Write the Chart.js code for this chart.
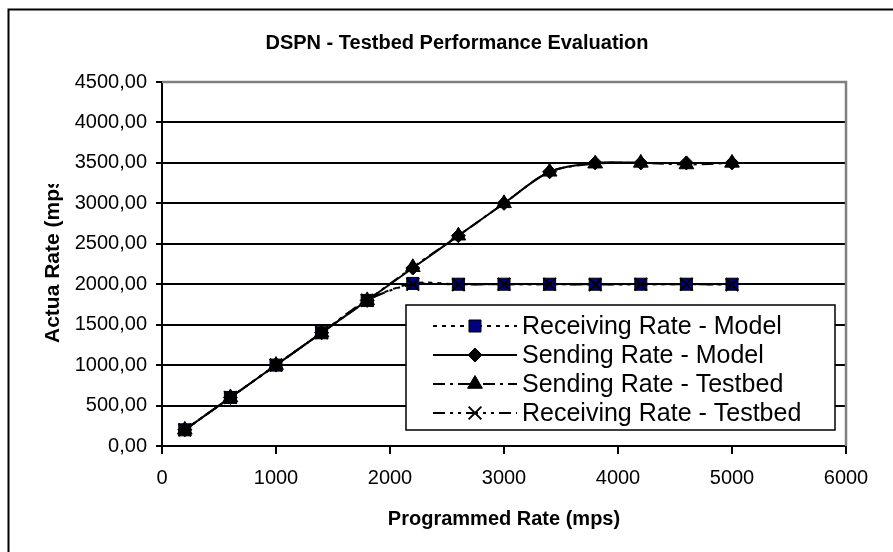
<!DOCTYPE html>
<html>
<head>
<meta charset="utf-8">
<script src="https://cdn.jsdelivr.net/npm/chart.js@4/dist/chart.umd.min.js"></script>
<style>
  html, body { margin: 0; padding: 0; background: #fff; }
  #wrap { width: 893px; height: 552px; }
</style>
</head>
<body>
<div id="wrap"><canvas id="dspn-chart" width="893" height="552"></canvas></div>
<script>
'use strict';

const fontFamily = '"Liberation Sans", Arial, sans-serif';

// values
const programmedRate = [200, 600, 1000, 1400, 1800, 2200, 2600, 3000, 3400, 3800, 4200, 4600, 5000];
const receivingModel = [200, 600, 1000, 1400, 1800, 2010, 2000, 2000, 2000, 2000, 2000, 2000, 2000];
const sendingModel = [200, 600, 1000, 1400, 1800, 2200, 2600, 3000, 3390, 3500, 3500, 3500, 3500];
const sendingTestbed = [200, 600, 1000, 1400, 1800, 2210, 2600, 3000, 3390, 3490, 3500, 3480, 3500];
const receivingTestbed = [200, 600, 1000, 1400, 1800, 2000, 1995, 2000, 2000, 1995, 2000, 2000, 1995];

const seriesNames = ['Receiving Rate - Model', 'Sending Rate - Model', 'Sending Rate - Testbed', 'Receiving Rate - Testbed'];
const xTickValues = [0, 1000, 2000, 3000, 4000, 5000, 6000];
const yTickValues = [0, 500, 1000, 1500, 2000, 2500, 3000, 3500, 4000, 4500];

const chartTitle = 'DSPN - Testbed Performance Evaluation';
const xTitle = 'Programmed Rate (mps)';
const yTitle = 'Actua Rate (mps)';

// line + marker look of each series, same order as seriesNames
const seriesStyles = [
    { dash: [4, 5], pointStyle: 'rect', radius: 8.5, fill: '#000080', stroke: '#000', order: 3 },
    { dash: [], pointStyle: 'rectRot', radius: 7, fill: '#000', stroke: '#000', order: 2 },
    { dash: [12, 5, 3, 5], pointStyle: 'triangle', radius: 8.5, fill: '#000', stroke: '#000', order: 1 },
    { dash: [12, 5, 3, 5, 3, 5], pointStyle: 'crossRot', radius: 9, fill: '#000', stroke: '#000', order: 0 }
];

function toPoints(values) {
    return programmedRate.map((x, i) => ({ x: x, y: values[i] }));
}

function makeDataset(idx, values) {
    let st = seriesStyles[idx];
    return {
        label: seriesNames[idx],
        data: toPoints(values),
        borderColor: '#000',
        borderWidth: 2,
        borderDash: st.dash,
        tension: 0.3,
        fill: false,
        order: st.order,
        pointStyle: st.pointStyle,
        pointRadius: st.radius,
        pointBackgroundColor: st.fill,
        pointBorderColor: st.stroke,
        pointBorderWidth: st.pointStyle === 'crossRot' ? 2 : 1
    };
}

function drawMarker(ctx, st, x, y) {
    ctx.save();
    ctx.setLineDash([]);
    ctx.fillStyle = st.fill;
    ctx.strokeStyle = st.stroke;
    ctx.lineWidth = st.pointStyle === 'crossRot' ? 2 : 1;
    Chart.helpers.drawPoint(ctx, { pointStyle: st.pointStyle, radius: st.radius, rotation: 0, borderWidth: ctx.lineWidth }, x, y);
    ctx.restore();
}

const decorations = {
    id: 'decorations',
    beforeDatasetsDraw(chart) {
        // grey edge on top and right of the plot area
        let ctx = chart.ctx;
        let a = chart.chartArea;
        ctx.save();
        ctx.strokeStyle = '#808080';
        ctx.lineWidth = 2.5;
        ctx.beginPath();
        ctx.moveTo(a.left, a.top);
        ctx.lineTo(a.right, a.top);
        ctx.lineTo(a.right, a.bottom);
        ctx.stroke();
        ctx.restore();
    },
    afterDraw(chart) {
        let ctx = chart.ctx;
        let a = chart.chartArea;
        ctx.save();

        // outer frame of the chart object (runs off the page right/bottom)
        ctx.strokeStyle = '#000';
        ctx.lineWidth = 2;
        ctx.strokeRect(8.5, 9.5, 1000, 1000);

        // titles
        ctx.fillStyle = '#000';
        ctx.textAlign = 'center';
        ctx.textBaseline = 'middle';
        ctx.font = 'bold 20px ' + fontFamily;
        ctx.fillText(chartTitle, 457, 43);
        ctx.fillText(xTitle, (a.left + a.right) / 2, 519);

        // y title is cut off at the top like in the original
        ctx.save();
        ctx.beginPath();
        ctx.rect(0, 184, 150, 300);
        ctx.clip();
        ctx.translate(53, 343);
        ctx.rotate(-Math.PI / 2);
        ctx.textAlign = 'left';
        ctx.font = 'bold 21px ' + fontFamily;
        ctx.fillText(yTitle, 0, 0);
        ctx.restore();

        // legend box
        let box = { x: 406, y: 305, w: 429, h: 125 };
        ctx.fillStyle = '#fff';
        ctx.fillRect(box.x, box.y, box.w, box.h);
        ctx.strokeStyle = '#000';
        ctx.lineWidth = 1.5;
        ctx.strokeRect(box.x, box.y, box.w, box.h);

        ctx.font = '25px ' + fontFamily;
        ctx.textAlign = 'left';
        seriesNames.forEach((name, i) => {
            let st = seriesStyles[i];
            let y = 326 + i * 29;
            ctx.strokeStyle = '#000';
            ctx.lineWidth = 2;
            ctx.setLineDash(st.dash);
            ctx.beginPath();
            ctx.moveTo(433, y);
            ctx.lineTo(517, y);
            ctx.stroke();
            ctx.setLineDash([]);
            drawMarker(ctx, st, 475, y);
            ctx.fillStyle = '#000';
            ctx.fillText(name, 522, y + 1);
        });
        ctx.restore();
    }
};

let canvasElem = document.getElementById('dspn-chart');
let dspnChart = new Chart(canvasElem.getContext('2d'), {
    type: 'line',
    data: {
        datasets: [
            makeDataset(0, receivingModel),
            makeDataset(1, sendingModel),
            makeDataset(2, sendingTestbed),
            makeDataset(3, receivingTestbed)
        ]
    },
    options: {
        responsive: false,
        animation: false,
        layout: { padding: { left: 0, top: 82, right: 47, bottom: 0 } },
        plugins: {
            legend: { display: false },
            tooltip: { enabled: false },
            title: { display: false }
        },
        scales: {
            x: {
                type: 'linear',
                min: 0,
                max: 6000,
                afterBuildTicks: scale => { scale.ticks = xTickValues.map(v => ({ value: v })); },
                ticks: {
                    color: '#000',
                    font: { size: 20, family: fontFamily },
                    padding: 12,
                    maxRotation: 0,
                    autoSkip: false,
                    callback: v => String(v)
                },
                grid: { drawOnChartArea: false, drawTicks: true, tickLength: 8, color: '#000', lineWidth: 2 },
                border: { color: '#000', width: 2 },
                afterFit: scale => { scale.height = 106; }
            },
            y: {
                type: 'linear',
                min: 0,
                max: 4500,
                afterBuildTicks: scale => { scale.ticks = yTickValues.map(v => ({ value: v })); },
                ticks: {
                    color: '#000',
                    font: { size: 20, family: fontFamily },
                    padding: 9,
                    callback: v => v.toFixed(2).replace('.', ',')
                },
                grid: { color: '#000', lineWidth: 2, tickLength: 6 },
                border: { color: '#000', width: 2 },
                afterFit: scale => { scale.width = 162; }
            }
        }
    },
    plugins: [decorations]
});
</script>
</body>
</html>
